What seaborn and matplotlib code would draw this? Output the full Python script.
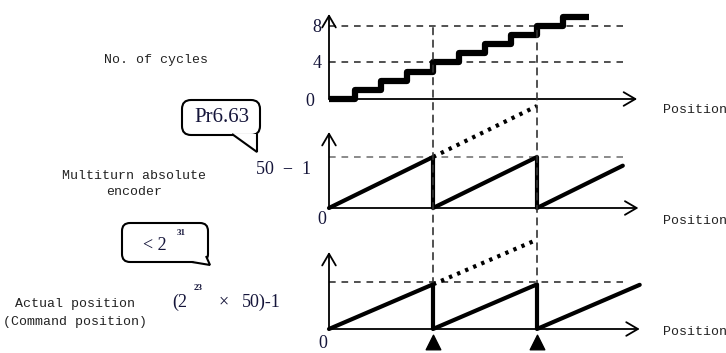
import matplotlib
matplotlib.use("Agg")
import matplotlib.pyplot as plt
import seaborn as sns
import numpy as np
import pandas as pd
from matplotlib.patches import FancyBboxPatch, Polygon, ConnectionPatch

sns.set_theme(style="white")
plt.rcParams['font.family'] = ['Liberation Serif', 'DejaVu Serif']

# position axis: one unit = one step of the cycle counter
cycle_pos = [0, 1, 2, 3, 4, 5, 6, 7, 8, 9, 10]
cycle_count = [0, 1, 2, 3, 4, 5, 6, 7, 8, 9, 9]

# multiturn encoder: wraps at 50-1 every 4 units
enc_pos = [0, 4, 4, 8, 8, 11.3]
enc_val = [0, 1, 0, 1, 0, 0.83]
enc_over_pos = [4, 8]
enc_over_val = [1, 2]

# actual position: wraps at (2^23 x 50)-1
act_pos = [0, 4, 4, 8, 8, 11.95]
act_val = [0, 0.95, 0, 0.95, 0, 0.94]
act_over_pos = [4, 8]
act_over_val = [0.95, 1.9]
wrap_marks = [4, 8]

W, H = 726, 353
fig = plt.figure(figsize=(W / 100, H / 100), dpi=100)


def px_axes(left, top, right, bottom):
    return fig.add_axes([left / W, 1 - bottom / H, (right - left) / W, (bottom - top) / H])


def draw_axes(ax, ymax, xtip):
    ax.set_xlim(0, 12)
    ax.set_ylim(0, ymax)
    ax.axis("off")
    arrow = dict(arrowstyle="->,head_length=0.6,head_width=0.35", lw=1.3, color="black",
                 mutation_scale=14, shrinkA=0, shrinkB=0)
    ax.annotate("", xy=(0, ymax), xytext=(0, 0), arrowprops=arrow, annotation_clip=False)
    ax.annotate("", xy=(xtip, 0), xytext=(0, 0), arrowprops=arrow, annotation_clip=False)


dash = dict(color="#333333", lw=1.2, ls=(0, (4, 3.5)))

# top: number of cycles
ax1 = px_axes(329, 14, 641, 99)
draw_axes(ax1, 85 / 9.125, 11.85)
for lv in [4, 8]:
    ax1.plot([0, 11.3], [lv, lv], **dash)
df1 = pd.DataFrame({"pos": cycle_pos, "count": cycle_count})
ax1.plot(df1["pos"], df1["count"], drawstyle="steps-post", color="black", lw=4.5,
         solid_capstyle="butt", clip_on=False)

# middle: multiturn absolute encoder
ax2 = px_axes(329, 132, 641, 208)
draw_axes(ax2, 76 / 51, 11.9)
ax2.plot([0, 11.3], [1, 1], color="#777777", lw=1.2, ls=(0, (4, 3.5)))
df2 = pd.DataFrame({"pos": enc_pos, "val": enc_val})
sns.lineplot(data=df2, x="pos", y="val", sort=False, estimator=None, color="black",
             lw=3, ax=ax2, clip_on=False)
ax2.plot(enc_over_pos, enc_over_val, color="black", lw=3, ls=(0, (0.8, 1.3)), clip_on=False)

# bottom: actual position
ax3 = px_axes(329, 252, 641, 329)
draw_axes(ax3, 77 / 47, 11.95)
ax3.plot([0, 11.3], [1, 1], **dash)
df3 = pd.DataFrame({"pos": act_pos, "val": act_val})
sns.lineplot(data=df3, x="pos", y="val", sort=False, estimator=None, color="black",
             lw=3, ax=ax3, clip_on=False)
ax3.plot(act_over_pos, act_over_val, color="black", lw=3, ls=(0, (0.8, 1.3)), clip_on=False)
ax3.scatter(wrap_marks, [-0.28] * len(wrap_marks), marker="^", s=110, color="black",
            clip_on=False, zorder=5)

# vertical dashed guides running through all three panels
for x0, y0 in [(4, 7.8), (8, 7.5)]:
    con = ConnectionPatch(xyA=(x0, y0), coordsA=ax1.transData, xyB=(x0, 1.0),
                          coordsB=ax3.transData, color="#333333", lw=1.2, ls=(0, (4, 3.5)))
    fig.add_artist(con)

# overlay for labels and callouts (pixel coordinates)
ov = fig.add_axes([0, 0, 1, 1], zorder=-1)
ov.set_xlim(0, W)
ov.set_ylim(H, 0)
ov.axis("off")

mono = dict(family=["Liberation Mono", "DejaVu Sans Mono"], fontsize=9.5, color="#222222")
num = dict(family=["Liberation Serif", "DejaVu Serif"], fontsize=13, color="#15153a")
sup = dict(family=["Liberation Serif", "DejaVu Serif"], fontsize=6.5, fontweight="bold",
           color="#15153a")

ov.text(156, 60, "No. of cycles", ha="center", va="center", **mono)
ov.text(134, 184, "Multiturn absolute\nencoder", ha="center", va="center",
        linespacing=1.55, **mono)
ov.text(75, 313, "Actual position\n(Command position)", ha="center", va="center",
        linespacing=1.6, **mono)
for y in [110, 221, 332]:
    ov.text(663, y, "Position", ha="left", va="center", **mono)

ov.text(317, 27, "8", ha="center", va="center", **num)
ov.text(317, 63, "4", ha="center", va="center", **num)
ov.text(310, 101, "0", ha="center", va="center", **num)
ov.text(322, 219, "0", ha="center", va="center", **num)
ov.text(323, 343, "0", ha="center", va="center", **num)
ov.text(256, 169, "50  −  1", ha="left", va="center", **num)

ov.text(172, 302, "(2", ha="left", va="center", **num)
ov.text(194, 288, "23", ha="left", va="center", **sup)
ov.text(224, 302, "×", ha="center", va="center", **num)
ov.text(242, 302, "50)-1", ha="left", va="center", **num)

# callout Pr6.63
box1 = FancyBboxPatch((182, 100), 78, 35, boxstyle="round,pad=0,rounding_size=9",
                      fc="white", ec="black", lw=1.5)
ov.add_patch(box1)
ov.add_patch(Polygon([(232, 134), (257, 152), (257, 134)], closed=False, fc="white",
                     ec="black", lw=1.5, zorder=3))
ov.text(222, 117, "Pr6.63", ha="center", va="center", family="Liberation Serif",
        fontsize=15, color="#15153a", zorder=4)

# callout < 2^31
box2 = FancyBboxPatch((122, 223), 86, 39, boxstyle="round,pad=0,rounding_size=8",
                      fc="white", ec="black", lw=1.5)
ov.add_patch(box2)
ov.add_patch(Polygon([(192, 262), (210, 265), (206, 256)], closed=False, fc="white",
                     ec="black", lw=1.5, zorder=3))
ov.text(143, 246, "< 2", ha="left", va="center", zorder=4, **num)
ov.text(177, 233, "31", ha="left", va="center", zorder=4, **sup)

fig.savefig("out.png", dpi=100, facecolor="white")
